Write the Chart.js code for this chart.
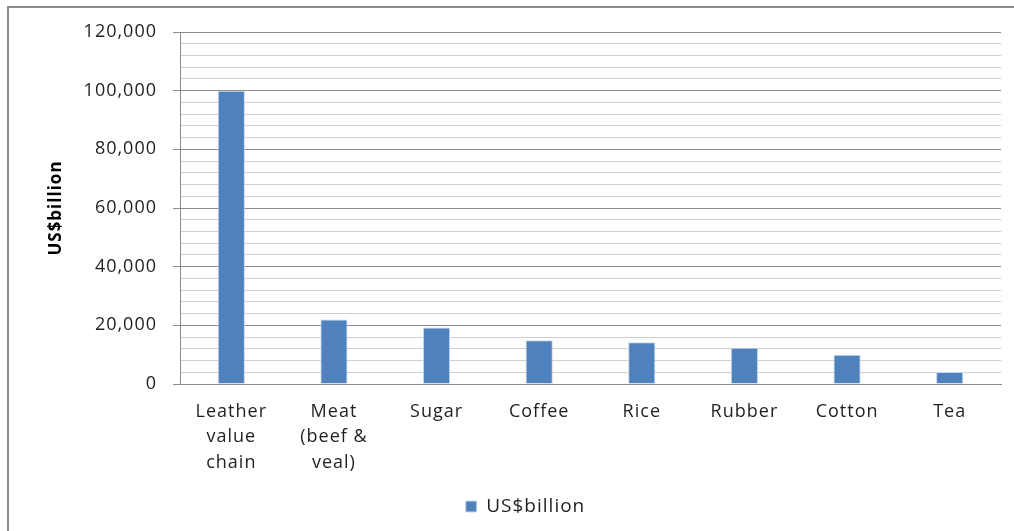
<!DOCTYPE html>
<html>
<head>
<meta charset="utf-8">
<script src="https://cdn.jsdelivr.net/npm/chart.js@4.4.0/dist/chart.umd.min.js"></script>
<style>
  body { margin: 0; background: #fff; }
  #wrap { position: relative; width: 1014px; height: 531px; overflow: hidden; }
  #frame {
    position: absolute; left: 7px; top: 6px; width: 1100px; height: 600px;
    border-left: 2px solid #8c8c8c; border-top: 2px solid #8c8c8c;
  }
  #chart { position: absolute; left: 0; top: 0; }
</style>
</head>
<body>
<div id="wrap">
  <div id="frame"></div>
  <canvas id="chart" width="1014" height="531"></canvas>
</div>
<script>
const categories = [
  ["Leather", "value", "chain"],
  ["Meat", "(beef &", "veal)"],
  "Sugar",
  "Coffee",
  "Rice",
  "Rubber",
  "Cotton",
  "Tea",
];
const seriesName = "US$billion";
const values = [100000, 22000, 19300, 14900, 14200, 12400, 10000, 4100];

const yMin = 0;
const yMax = 120000;
const yStep = 4000;     // minor gridlines
const yLabelStep = 20000; // labelled gridlines

const barBlue = "#4f81bd";
const textColor = "#1f1f1f";
const majorGrid = "#8a8a8a";
const minorGrid = "#cfcfcf";

const isMajor = (v) => v % yLabelStep === 0;

// slightly wider lettering for all chart text
const spacing = {
  id: "spacing",
  beforeDraw(chart) {
    chart.ctx.letterSpacing = "1px";
  },
};

// nudge the legend a little right of centre
const legendShift = {
  id: "legendShift",
  afterLayout(chart) {
    chart.legend.left += 20;
    chart.legend.right += 20;
  },
};

const data = {
  labels: categories,
  datasets: [
    {
      label: seriesName,
      data: values,
      backgroundColor: barBlue,
      borderColor: "#c6d6ec",
      borderWidth: 1,
      barPercentage: 0.265,
      categoryPercentage: 1,
    },
  ],
};

const config = {
  type: "bar",
  data,
  plugins: [spacing, legendShift],
  options: {
    responsive: false,
    animation: false,
    devicePixelRatio: 1,
    layout: { padding: { top: 32, right: 13, bottom: 5, left: 0 } },
    plugins: {
      tooltip: { enabled: false },
      legend: {
        position: "bottom",
        labels: {
          color: textColor,
          font: { family: "Open Sans", size: 19 },
          boxWidth: 11,
          boxHeight: 11,
          padding: 10,
        },
      },
    },
    scales: {
      x: {
        grid: { display: false, drawTicks: false },
        border: { display: true, color: majorGrid, width: 1 },
        ticks: {
          color: textColor,
          font: { family: "Open Sans", size: 18, lineHeight: 1.42 },
          padding: 15,
          maxRotation: 0,
          autoSkip: false,
        },
        afterFit: (scale) => { scale.height = 103; },
      },
      y: {
        min: yMin,
        max: yMax,
        border: { display: true, color: majorGrid, width: 1 },
        grid: {
          color: (ctx) => (isMajor(ctx.tick.value) ? majorGrid : minorGrid),
          tickColor: (ctx) => (isMajor(ctx.tick.value) ? majorGrid : "rgba(0,0,0,0)"),
          tickLength: 7,
          lineWidth: 1,
        },
        ticks: {
          stepSize: yStep,
          autoSkip: false,
          color: textColor,
          font: { family: "Open Sans", size: 18 },
          padding: 16,
          callback: (v) => (isMajor(v) ? v.toLocaleString("en-US") : ""),
        },
        title: {
          display: true,
          text: seriesName,
          color: "#000",
          font: { family: "Open Sans", size: 17, weight: "bold" },
          padding: { top: 46, bottom: 0 },
        },
        afterFit: (scale) => { scale.width = 180; },
      },
    },
  },
};

let chart = new Chart(document.getElementById("chart"), config);
</script>
</body>
</html>
